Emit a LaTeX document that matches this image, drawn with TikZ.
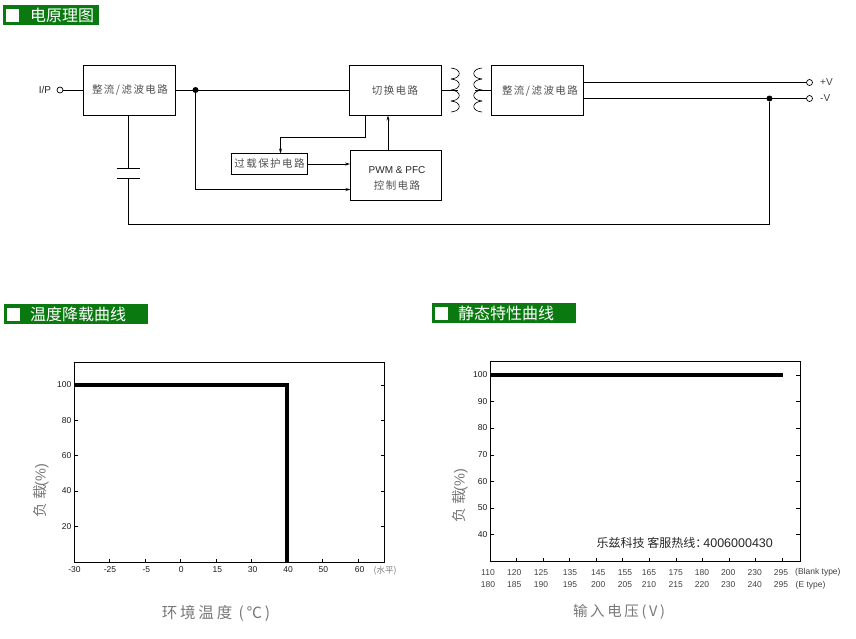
\documentclass[tikz,border=0pt]{standalone}
\usepackage{fontspec}
\setmainfont{Liberation Sans}
\newfontfamily\cjk{Noto Sans CJK SC}
\newfontfamily\cjkwide[LetterSpace=18]{Noto Sans CJK SC}
\newfontfamily\cjkbox[LetterSpace=14]{Noto Sans CJK SC}
\usepackage{xcolor}
\usetikzlibrary{arrows.meta, positioning}
\definecolor{headgreen}{RGB}{10,122,16}
\definecolor{inkgray}{RGB}{80,80,80}
\definecolor{softgray}{RGB}{120,120,120}

\begin{document}
\begin{tikzpicture}
  [
    x=1pt, y=-1pt,
    Box/.style={rectangle, draw=black, line width=0.9pt, inner sep=0pt},
    Wide/.style={Box, minimum width=92pt, minimum height=50pt},
    BoxText/.style={text=inkgray, font=\cjkbox\fontsize{10.5}{13}\selectfont, align=center},
    Port/.style={circle, draw=black, fill=white, line width=0.7pt, inner sep=0pt, minimum size=6pt},
    Joint/.style={circle, fill=black, inner sep=0pt, minimum size=6pt},
    Wire/.style={draw, line width=0.8pt},
    Feed/.style={Wire, -{Stealth[length=5pt, width=3pt]}},
    Head/.style={rectangle, fill=headgreen, inner sep=0pt, minimum height=20pt},
    HeadMark/.style={rectangle, fill=white, inner sep=0pt, minimum size=13pt},
    HeadText/.style={text=white, anchor=west, inner sep=0pt, font=\cjk\fontsize{16}{16}\selectfont},
    Tick/.style={inner sep=0pt, text=black!90, font=\fontsize{8.5}{9}\selectfont},
    Side/.style={inner sep=0pt, text=black!75, anchor=west, font=\fontsize{8.5}{9}\selectfont},
    Axis/.style={inner sep=0pt, text=softgray, font=\cjkwide\fontsize{14.5}{16}\selectfont},
    Frame/.style={draw=black, line width=0.9pt},
    Curve/.style={draw=black, line width=3.6pt, miter limit=10}
  ]
  \useasboundingbox (0,0) rectangle (856,638);
  % Headings
  \node[Head, minimum width=96pt] (head1) at(51, 15) {};
  \node[HeadMark] (mark1) at(12.5, 15) {};
  \node[HeadText] (title1) at(30, 15) {电原理图};
  \node[Head, minimum width=144pt] (head2) at(76, 314) {};
  \node[HeadMark] (mark2) at(13.5, 314) {};
  \node[HeadText] (title2) at(30, 314) {温度降载曲线};
  \node[Head, minimum width=144pt] (head3) at(504, 313) {};
  \node[HeadMark] (mark3) at(441.5, 313) {};
  \node[HeadText] (title3) at(458, 313) {静态特性曲线};

  % Nodes
  \node[Wide] (rect1) at(129, 90) {};
  \node[BoxText] (rect1text) at(130, 90) {整流/滤波电路};
  \node[Wide] (switch) at(395, 90) {};
  \node[BoxText] (switchtext) at(395, 90) {切换电路};
  \node[Wide] (rect2) at(537.5, 90) {};
  \node[BoxText] (rect2text) at(540, 91) {整流/滤波电路};
  \node[Box, minimum width=76pt, minimum height=21pt] (guard) at(269.5, 164) {};
  \node[BoxText] (guardtext) at(269.5, 164) {过载保护电路};
  \node[Box, minimum width=91pt, minimum height=50pt] (pwm) at(396, 175.5) {};
  \node[inner sep=0pt, text=black!85, font=\fontsize{10}{10}\selectfont] (pwmtext) at(397, 170) {PWM \& PFC};
  \node[BoxText] (ctrltext) at(397, 185) {控制电路};
  \node[Port] (in) at(60, 90) {};
  \node[Port] (plus) at(809.5, 82.5) {};
  \node[Port] (minus) at(809.5, 98.5) {};
  \node[Joint] (tapin) at(195.5, 90) {};
  \node[Joint] (tapout) at(769.5, 98.5) {};
  \node[inner sep=0pt, text=black!85, font=\fontsize{10}{10}\selectfont] (inlabel) at(45, 90) {I/P};
  \node[Side, font=\fontsize{10}{10}\selectfont] (pluslabel) at(820, 82) {+V};
  \node[Side, font=\fontsize{10}{10}\selectfont] (minuslabel) at(820, 98.5) {-V};

  % Points on the lines
  \coordinate (capa) at(128.5, 168.5);
  \coordinate (capb) at(128.5, 178.5);
  \coordinate (swtap) at(365.5, 115);
  \coordinate (swfold) at(365.5, 137);
  \coordinate (guardin) at(280.5, 153.5);
  \coordinate (pwmtop) at(388, 150.5);
  \coordinate (pwmlow) at(350.5, 189.5);
  \coordinate (coilin) at(458, 90);
  \coordinate (coilout) at(475, 90);
  \coordinate (rect1low) at(128.5, 115);
  \coordinate (rect2up) at(583.5, 82.5);
  \coordinate (rect2low) at(583.5, 98.5);
  \coordinate (backrun) at(128.5, 224.5);

  % Lines
  \path [Wire] (in) -- (rect1);
  \path [Wire] (rect1) -- (switch);
  \path [Wire] (switch) -- (coilin);
  \path [Wire] (coilout) -- (rect2);
  \path [Wire] (rect2up) -- (plus);
  \path [Wire] (rect2low) -- (minus);
  \path [Wire] (rect1low) -- (capa);
  \path [Wire] (capb) -- (backrun) -| (tapout);
  \path [Wire, line width=0.6pt] (117, 168.5) -- (140, 168.5);
  \path [Wire, line width=0.6pt] (117, 178.5) -- (140, 178.5);
  \path [Feed] (tapin) |- (pwmlow);
  \path [Feed] (guard.east) -- (guard.east -| pwm.west);
  \path [Feed] (pwmtop) -- (pwmtop |- switch.south);
  \path [Feed] (swtap) -- (swfold) -| (guardin);
  % Transformer
  \foreach \coily in {68, 79, 90, 101} {
    \draw[line width=0.6pt] (451, \coily) .. controls (462, \coily+1) and (462, \coily+10) .. (451, \coily+11);
    \draw[line width=0.6pt] (482, \coily) .. controls (471, \coily+1) and (471, \coily+10) .. (482, \coily+11);
  }

  % Derating chart
  \draw[Frame] (74.5, 362.5) rectangle (384.5, 562.5);
  \foreach \ylab/\ypos in {100/385, 80/420.5, 60/455.5, 40/491, 20/526.5} {
    \draw[line width=0.6pt] (74.5, \ypos) -- +(3, 0);
    \draw[line width=0.6pt] (384.5, \ypos) -- +(-4, 0);
    \node[Tick, anchor=east] (dl\ylab) at(71.5, \ypos) {\ylab};
  }
  \foreach \xlab/\xpos in {-25/109, -5/145.3, 0/180.3, 15/216.3, 30/251.7, 40/287, 50/322.3, 60/358.7} {
    \draw[line width=0.6pt] (\xpos, 562.5) -- +(0, -4);
    \node[Tick] (dx\xlab) at(\xpos+1, 569.5) {\xlab};
  }
  \node[Tick] (dxstart) at(74.5, 569.5) {-30};
  \node[inner sep=0pt, text=softgray, font=\cjk\fontsize{8.5}{9}\selectfont] (dxunit) at(385, 571) {(水平)};
  \path [Curve] (74.5, 385) -- (287, 385) -- (287, 562);
  \node[Axis, rotate=90] (dylabel) at(41, 490.5) {负载\hspace{-1pt}{\normalfont(\%)}};
  \node[Axis, font=\cjkwide\fontsize{15.5}{16}\selectfont] (dxlabel) at(216, 613) {环境温度\ (℃)};

  % Static chart
  \draw[Frame] (490.5, 361.5) rectangle (800.5, 561.5);
  \foreach \ylab/\ypos in {100/375, 90/401.5, 80/428, 70/455, 60/481.5, 50/508, 40/534.5} {
    \draw[line width=0.6pt] (490.5, \ypos) -- +(3, 0);
    \draw[line width=0.6pt] (800.5, \ypos) -- +(-5, 0);
    \node[Tick, anchor=east] (sl\ylab) at(487.5, \ypos) {\ylab};
  }
  \foreach \xpos in {516.3, 543.3, 569.3, 596.3, 622.3, 649.3, 676.3, 702.3, 729.3, 755.3, 782.3} {
    \draw[line width=0.6pt] (\xpos, 561.5) -- +(0, -4);
  }
  \foreach \xup/\xdown/\xpos in {110/180/488, 120/185/514.3, 125/190/541, 135/195/570, 145/200/598.3, 155/205/625,
      165/210/649, 175/215/675.7, 180/220/702, 200/230/728.3, 230/240/754.7, 295/295/781} {
    \node[Tick, text=black!75] (up\xpos) at(\xpos, 572.5) {\xup};
    \node[Tick, text=black!75] (down\xpos) at(\xpos, 585) {\xdown};
  }
  \node[Side] (blank) at(795, 572.5) {(Blank type)};
  \node[Side] (etype) at(795.5, 585) {(E type)};
  \path [Curve] (490.5, 375) -- (783, 375);
  \node[anchor=west, inner sep=0pt, font=\fontsize{12.5}{13}\selectfont, text=black!85] (hotline) at(596.5, 542.5)
    {{\cjk\fontsize{12}{13}\selectfont 乐兹科技 客服热线：}\hspace{-4pt}4006000430};
  \node[Axis, rotate=90] (sylabel) at(460, 495.5) {负载\hspace{-1pt}{\normalfont(\%)}};
  \node[Axis] (sxlabel) at(619, 612) {输入电压(V)};
\end{tikzpicture}
\end{document}
